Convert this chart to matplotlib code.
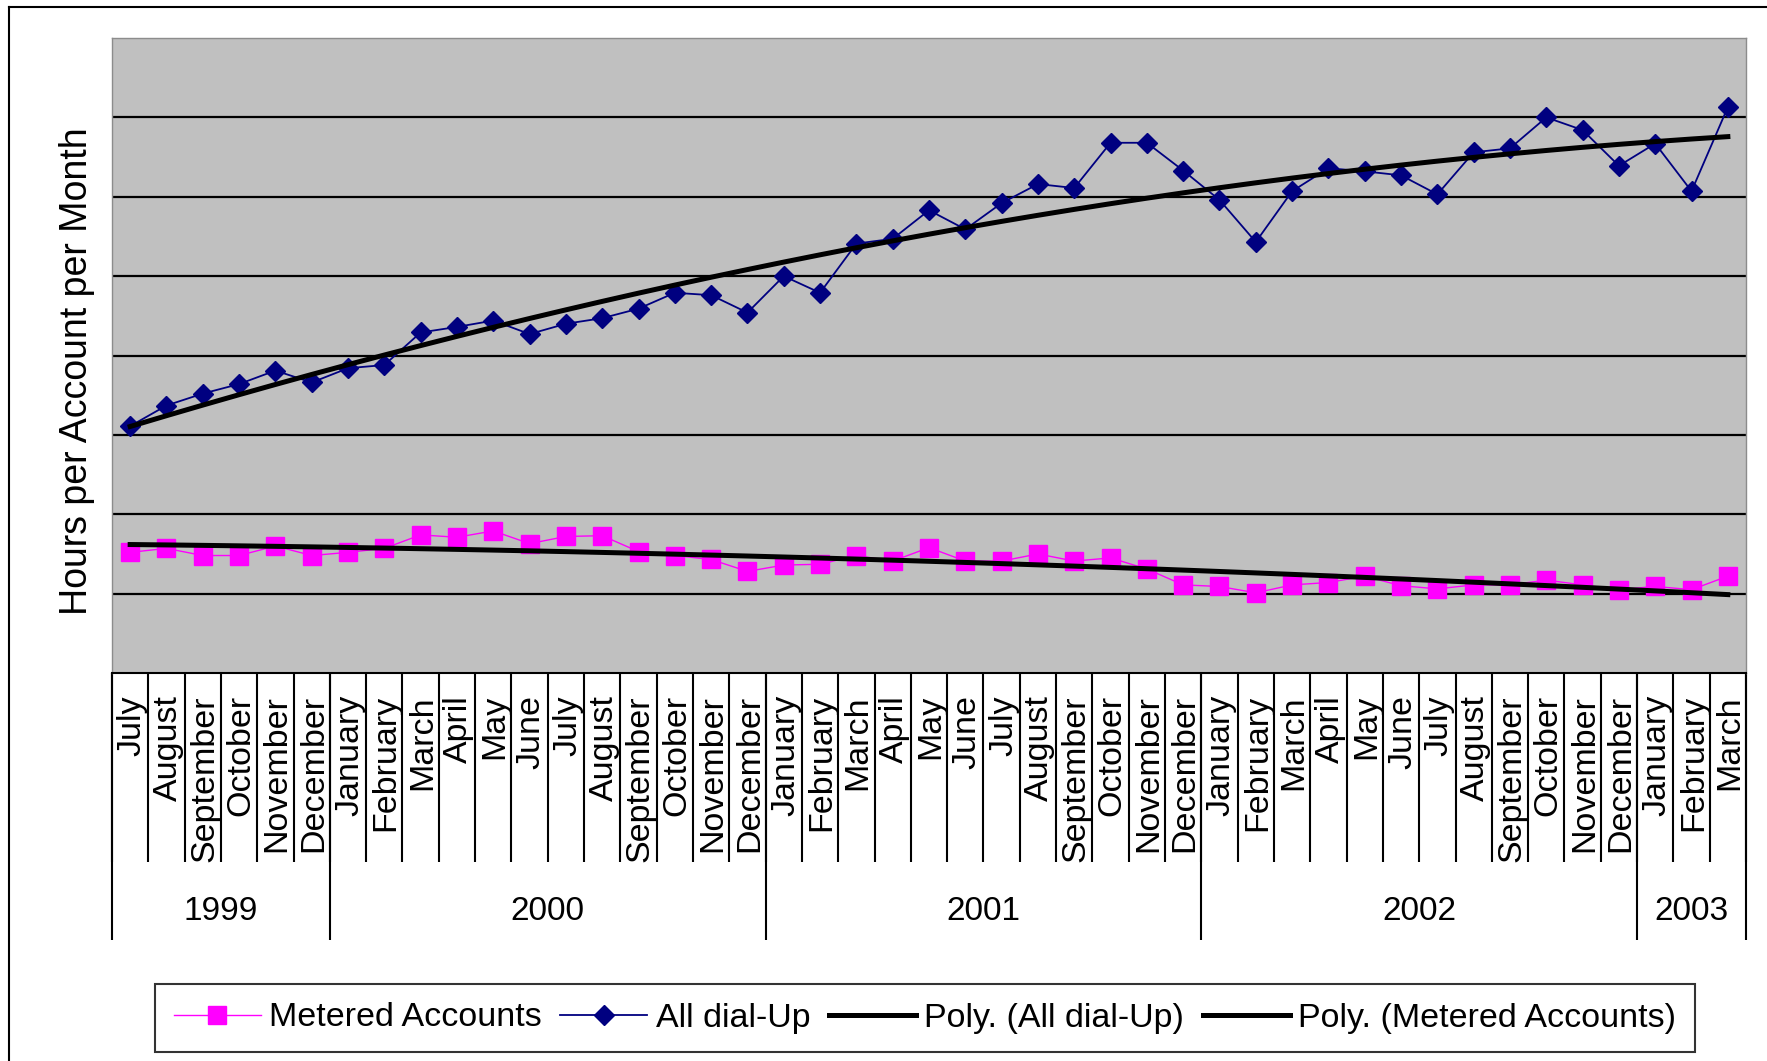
import numpy as np
import matplotlib
matplotlib.use("Agg")
import matplotlib.pyplot as plt
from matplotlib.lines import Line2D

plt.rcParams['font.family'] = ['Liberation Sans', 'DejaVu Sans']

months = ["July", "August", "September", "October", "November", "December",
          "January", "February", "March", "April", "May", "June", "July", "August",
          "September", "October", "November", "December",
          "January", "February", "March", "April", "May", "June", "July", "August",
          "September", "October", "November", "December",
          "January", "February", "March", "April", "May", "June", "July", "August",
          "September", "October", "November", "December",
          "January", "February", "March"]
years = ["1999", "2000", "2001", "2002", "2003"]
year_counts = [6, 12, 12, 12, 3]

all_dialup = [3.11, 3.37, 3.52, 3.64, 3.81, 3.66,
              3.84, 3.88, 4.29, 4.36, 4.44, 4.27, 4.40, 4.47, 4.59, 4.79, 4.76, 4.54,
              5.00, 4.79, 5.41, 5.47, 5.83, 5.59, 5.92, 6.16, 6.11, 6.68, 6.68, 6.33,
              5.96, 5.43, 6.07, 6.36, 6.32, 6.27, 6.03, 6.56, 6.61, 7.00, 6.84, 6.39,
              6.67, 6.07, 7.13]
metered = [1.52, 1.57, 1.48, 1.48, 1.60, 1.48,
           1.52, 1.57, 1.74, 1.71, 1.79, 1.63, 1.72, 1.73, 1.53, 1.48, 1.43, 1.28,
           1.36, 1.37, 1.48, 1.41, 1.58, 1.41, 1.41, 1.50, 1.41, 1.45, 1.31, 1.11,
           1.09, 1.01, 1.11, 1.14, 1.22, 1.10, 1.06, 1.11, 1.11, 1.17, 1.11, 1.05,
           1.09, 1.05, 1.22]

W, H = 1767, 1061
fig = plt.figure(figsize=(W / 100, H / 100), dpi=100)
L, R, T, B = 112, 1746, 38, 673
ax = fig.add_axes([L / W, 1 - B / H, (R - L) / W, (B - T) / H])
ax.set_facecolor('#C0C0C0')

x = np.arange(1, len(months) + 1)
ax.set_xlim(0.5, len(months) + 0.5)
ax.set_ylim(0, 8)
ax.set_yticks(range(1, 8))
ax.set_yticklabels([])
ax.set_xticks([])
ax.tick_params(left=False, bottom=False)
ax.grid(axis='y', color='black', linewidth=1.6)
ax.set_axisbelow(True)
for s in ['left', 'top', 'right']:
    ax.spines[s].set_color('#8C8C8C')
    ax.spines[s].set_linewidth(1.0)
ax.spines['bottom'].set_color('black')
ax.spines['bottom'].set_linewidth(1.5)

# trend lines (polynomial fits, as in the spreadsheet)
deg = 2
p_all = np.polyfit(x, all_dialup, deg)
p_met = np.polyfit(x, metered, deg)

h1, = ax.plot(x, metered, color='#FF00FF', lw=1.0, marker='s', markersize=13,
              markeredgecolor='#FF00FF', label='Metered Accounts', zorder=3)
h2, = ax.plot(x, all_dialup, color='#000080', lw=1.3, marker='D', markersize=10.5,
              markeredgecolor='#000080', label='All dial-Up', zorder=3)
h3, = ax.plot(x, np.polyval(p_all, x), color='black', lw=3.6,
              label='Poly. (All dial-Up)', zorder=4)
h4, = ax.plot(x, np.polyval(p_met, x), color='black', lw=3.6,
              label='Poly. (Metered Accounts)', zorder=4)

# category axis: month labels and separators
ph = B - T
month_bottom = -(862 - B) / ph
year_bottom = -(940 - B) / ph
xt = ax.get_xaxis_transform()
bounds = np.arange(0.5, len(months) + 1, 1.0)
ax.vlines(bounds, month_bottom, 0, transform=xt, colors='black', lw=1.5, clip_on=False)
ybounds = np.concatenate([[0.5], 0.5 + np.cumsum(year_counts)])
ax.vlines(ybounds, year_bottom, 0, transform=xt, colors='black', lw=1.5, clip_on=False)
for xi, m in zip(x, months):
    ax.text(xi + 0.05, -(695 - B) / ph, m, transform=xt, rotation=90,
            ha='center', va='top', fontsize=24.5, color='black')
for i, yr in enumerate(years):
    cx = (ybounds[i] + ybounds[i + 1]) / 2
    ax.text(cx, -(911 - B) / ph, yr, transform=xt, ha='center', va='center',
            fontsize=24, color='black')

fig.text(77 / W, 1 - 371 / H, 'Hours per Account per Month', rotation=90,
         ha='center', va='center', fontsize=27)

leg = fig.legend(handles=[h1, h2, h3, h4], loc='center', ncol=4,
                 bbox_to_anchor=(925 / W, 1 - 1018 / H), fontsize=24.5,
                 frameon=True, fancybox=False, edgecolor='black',
                 handlelength=2.55, handletextpad=0.25, columnspacing=0.55,
                 borderpad=0.55, borderaxespad=0)
leg.get_frame().set_linewidth(1.5)

# outer chart border (left and top visible)
fig.add_artist(Line2D([9 / W, 9 / W], [0, 1 - 7 / H], transform=fig.transFigure,
                      color='black', lw=1.5))
fig.add_artist(Line2D([9 / W, 1], [1 - 7 / H, 1 - 7 / H], transform=fig.transFigure,
                      color='black', lw=1.5))

fig.savefig('out.png', dpi=100, facecolor='white')
